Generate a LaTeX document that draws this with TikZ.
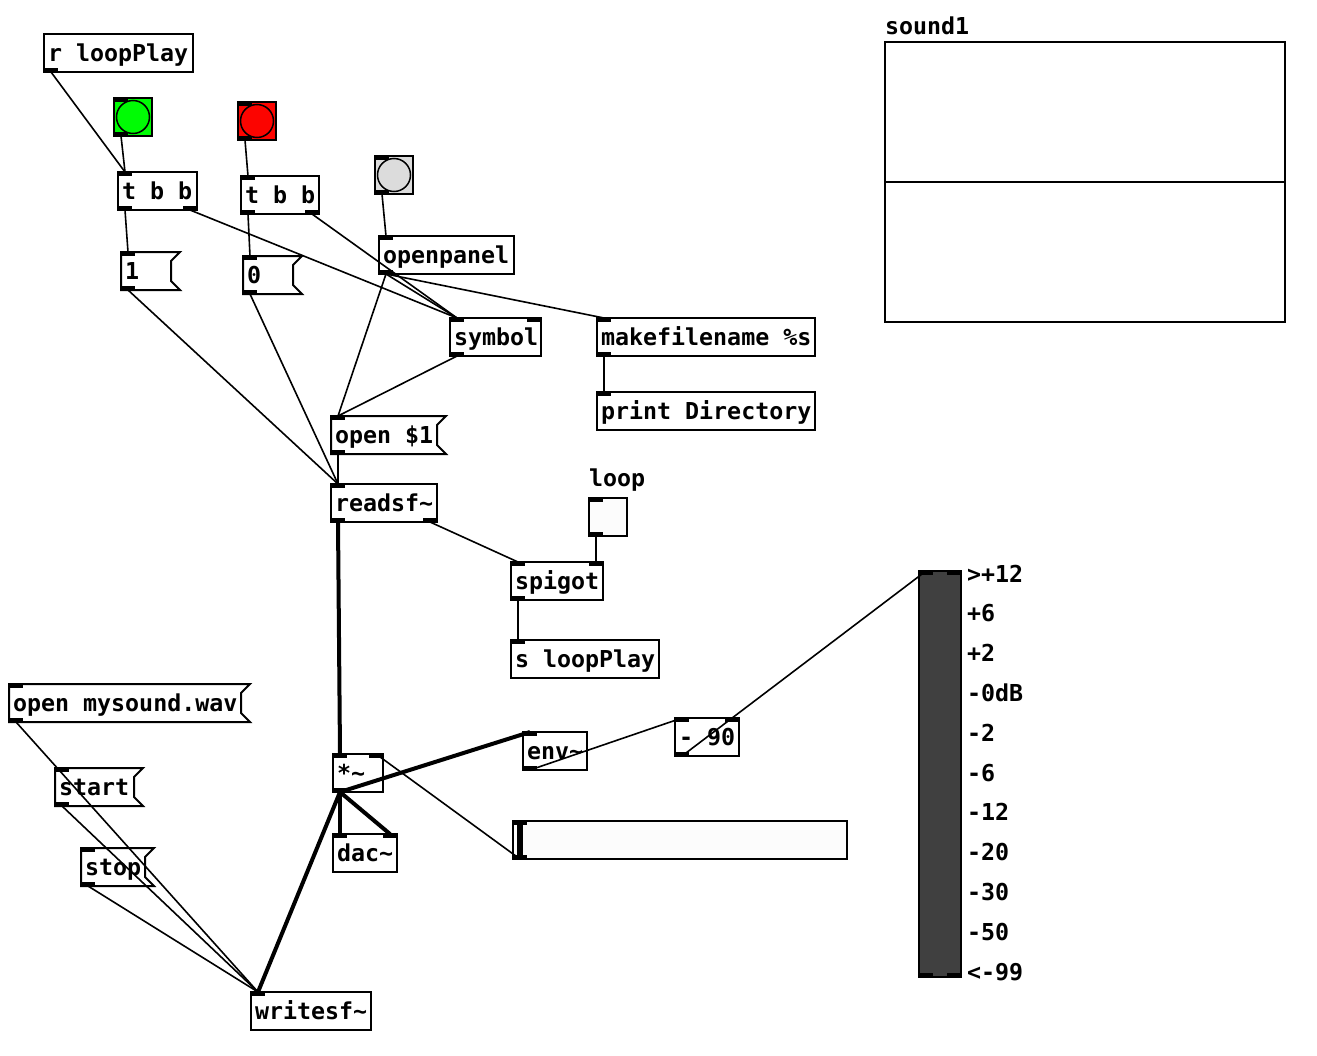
\documentclass[tikz,border=0pt]{standalone}
\usepackage{fontspec}
\newfontfamily\pdfont{DejaVu Sans Mono}
\usetikzlibrary{calc}
\definecolor{bgreen}{RGB}{0,252,4}
\definecolor{bred}{RGB}{252,4,0}
\definecolor{bgrey}{RGB}{220,220,220}
\definecolor{nearwhite}{RGB}{252,252,252}
\definecolor{vugrey}{RGB}{64,64,64}
\newcommand\pdbox[6]{\node[obj,minimum width=#4,minimum height=#5] (#1) at (#2,#3) {};
  \node[txt] (#1t) at ($(#1.north west)+(4,27.5)$) {#6};}
\newcommand\pdmsg[6]{\node[area,minimum width=#4,minimum height=#5] (#1) at (#2,#3) {};
  \draw[line width=2,line join=miter] (#1.north west) -- (#1.north east) -- ++(-9,9) -- ($(#1.south east)+(-9,-9)$) -- (#1.south east) -- (#1.south west) -- cycle;
  \node[txt] (#1t) at ($(#1.north west)+(4,27.5)$) {#6};}
\newcommand\inL[1]{\fill (#1.north west) rectangle ++(14,4);}
\newcommand\inR[1]{\fill ($(#1.north east)+(-14,0)$) rectangle ++(14,4);}
\newcommand\outL[1]{\fill ($(#1.south west)+(0,-4)$) rectangle ++(14,4);}
\newcommand\outR[1]{\fill ($(#1.south east)+(-14,-4)$) rectangle ++(14,4);}
\begin{document}
\begin{tikzpicture}[x=1pt,y=-1pt,
  area/.style={inner sep=0,outer sep=0,anchor=north west},
  obj/.style={area,draw,line width=2},
  txt/.style={inner sep=0,outer sep=0,anchor=base west,font=\pdfont\bfseries\fontsize{23.3}{23.3}\selectfont},
  cord/.style={line width=1.6},
  sig/.style={line width=4}]
\useasboundingbox[fill=white] (0,0) rectangle (1317,1055);

% objects
\pdbox{rloop}{44}{34}{149}{38}{r loopPlay}\outL{rloop}
\node[obj,fill=bgreen,minimum width=38,minimum height=38] (bgr) at (114,98) {};
\draw[line width=1.5,fill=bgreen] (bgr.center) circle (16.5);\inL{bgr}\outL{bgr}
\node[obj,fill=bred,minimum width=38,minimum height=38] (brd) at (238,102) {};
\draw[line width=1.5,fill=bred] (brd.center) circle (16.5);\inL{brd}\outL{brd}
\node[obj,fill=bgrey,minimum width=38,minimum height=38] (bgy) at (375,156) {};
\draw[line width=1.5,fill=bgrey] (bgy.center) circle (16.5);\inL{bgy}\outL{bgy}
\pdbox{tbbA}{118}{172}{79}{38}{t b b}\inL{tbbA}\outL{tbbA}\outR{tbbA}
\pdbox{tbbB}{241}{176}{78}{38}{t b b}\inL{tbbB}\outL{tbbB}\outR{tbbB}
\pdmsg{mone}{121}{252}{59}{38}{1}\inL{mone}\outL{mone}
\pdmsg{mzero}{243}{256}{59}{38}{0}\inL{mzero}\outL{mzero}
\pdbox{opanel}{379}{236}{135}{38}{openpanel}\inL{opanel}\outL{opanel}
\pdbox{sym}{450}{318}{91}{38}{symbol}\inL{sym}\inR{sym}\outL{sym}
\pdbox{mkfn}{597}{318}{218}{38}{makefilename \%s}\inL{mkfn}\outL{mkfn}
\pdbox{prt}{597}{392}{218}{38}{print Directory}\inL{prt}
\pdmsg{mopen}{331}{416}{115}{38}{open \$1}\inL{mopen}\outL{mopen}
\pdbox{rsf}{331}{484}{106}{38}{readsf\textasciitilde}\inL{rsf}\outL{rsf}\outR{rsf}
\node[txt] (looplbl) at (589,486) {loop};
\node[obj,fill=nearwhite,minimum width=38,minimum height=38] (tgl) at (589,498) {};\inL{tgl}\outL{tgl}
\pdbox{spig}{511}{562}{92}{38}{spigot}\inL{spig}\inR{spig}\outL{spig}
\pdbox{sloop}{511}{640}{148}{38}{s loopPlay}\inL{sloop}
\pdmsg{mwav}{9}{684}{241}{38}{open mysound.wav}\inL{mwav}\outL{mwav}
\pdmsg{mstart}{55}{768}{88}{38}{start}\inL{mstart}\outL{mstart}
\pdmsg{mstop}{81}{848}{73}{38}{stop}\inL{mstop}\outL{mstop}
\pdbox{mul}{333}{754}{50}{38}{*\textasciitilde}\inL{mul}\inR{mul}\outL{mul}
\pdbox{dac}{333}{834}{64}{38}{dac\textasciitilde}\inL{dac}\inR{dac}
\pdbox{env}{523}{732}{64}{38}{env\textasciitilde}\inL{env}\outL{env}
\pdbox{sub}{675}{718}{64}{38}{- 90}\inL{sub}\inR{sub}\outL{sub}
\pdbox{wsf}{251}{992}{120}{38}{writesf\textasciitilde}\inL{wsf}
\node[obj,fill=nearwhite,minimum width=334,minimum height=38] (hsl) at (513,821) {};
\fill (517,821) rectangle (523,859);\inL{hsl}\outL{hsl}
\node[obj,fill=vugrey,minimum width=42,minimum height=406] (vu) at (919,571) {};
\inL{vu}\inR{vu}\outL{vu}\outR{vu}
\foreach \t [count=\i from 0] in {>+12,+6,+2,-0dB,-2,-6,-12,-20,-30,-50,<-99}
  \node[txt] (vul\i) at (967,582+39.8*\i) {\t};
\node[txt] (arrl) at (885,34) {sound1};
\node[area,draw,line width=1.6,minimum width=400,minimum height=280] (arr) at (885,42) {};
\draw[line width=1.6] (arr.west) -- (arr.east);

% connections
\draw[cord] ($(rloop.south west)+(7,0)$) -- ($(tbbA.north west)+(7,0)$);
\draw[cord] ($(bgr.south west)+(7,0)$) -- ($(tbbA.north west)+(7,0)$);
\draw[cord] ($(brd.south west)+(7,0)$) -- ($(tbbB.north west)+(7,0)$);
\draw[cord] ($(bgy.south west)+(7,0)$) -- ($(opanel.north west)+(7,0)$);
\draw[cord] ($(tbbA.south west)+(7,0)$) -- ($(mone.north west)+(7,0)$);
\draw[cord] ($(tbbB.south west)+(7,0)$) -- ($(mzero.north west)+(7,0)$);
\draw[cord] ($(tbbA.south east)+(-7,0)$) -- ($(sym.north west)+(7,0)$);
\draw[cord] ($(tbbB.south east)+(-7,0)$) -- ($(sym.north west)+(7,0)$);
\draw[cord] ($(opanel.south west)+(7,0)$) -- ($(sym.north west)+(7,0)$);
\draw[cord] ($(opanel.south west)+(7,0)$) -- ($(mkfn.north west)+(7,0)$);
\draw[cord] ($(opanel.south west)+(7,0)$) -- ($(mopen.north west)+(7,0)$);
\draw[cord] ($(sym.south west)+(7,0)$) -- ($(mopen.north west)+(7,0)$);
\draw[cord] ($(mkfn.south west)+(7,0)$) -- ($(prt.north west)+(7,0)$);
\draw[cord] ($(mone.south west)+(7,0)$) -- ($(rsf.north west)+(7,0)$);
\draw[cord] ($(mzero.south west)+(7,0)$) -- ($(rsf.north west)+(7,0)$);
\draw[cord] ($(mopen.south west)+(7,0)$) -- ($(rsf.north west)+(7,0)$);
\draw[sig] ($(rsf.south west)+(7,0)$) -- ($(mul.north west)+(7,0)$);
\draw[cord] ($(rsf.south east)+(-7,0)$) -- ($(spig.north west)+(7,0)$);
\draw[cord] ($(tgl.south west)+(7,0)$) -- ($(spig.north east)+(-7,0)$);
\draw[cord] ($(spig.south west)+(7,0)$) -- ($(sloop.north west)+(7,0)$);
\draw[sig] ($(mul.south west)+(7,0)$) -- ($(dac.north west)+(7,0)$);
\draw[sig] ($(mul.south west)+(7,0)$) -- ($(dac.north east)+(-7,0)$);
\draw[sig] ($(mul.south west)+(7,0)$) -- ($(env.north west)+(7,0)$);
\draw[sig] ($(mul.south west)+(7,0)$) -- ($(wsf.north west)+(7,0)$);
\draw[cord] ($(hsl.south west)+(7,0)$) -- ($(mul.north east)+(-7,0)$);
\draw[cord] ($(env.south west)+(7,0)$) -- ($(sub.north west)+(7,0)$);
\draw[cord] ($(sub.south west)+(7,0)$) -- ($(vu.north west)+(7,0)$);
\draw[cord] ($(mwav.south west)+(7,0)$) -- ($(wsf.north west)+(7,0)$);
\draw[cord] ($(mstart.south west)+(7,0)$) -- ($(wsf.north west)+(7,0)$);
\draw[cord] ($(mstop.south west)+(7,0)$) -- ($(wsf.north west)+(7,0)$);
\end{tikzpicture}
\end{document}
